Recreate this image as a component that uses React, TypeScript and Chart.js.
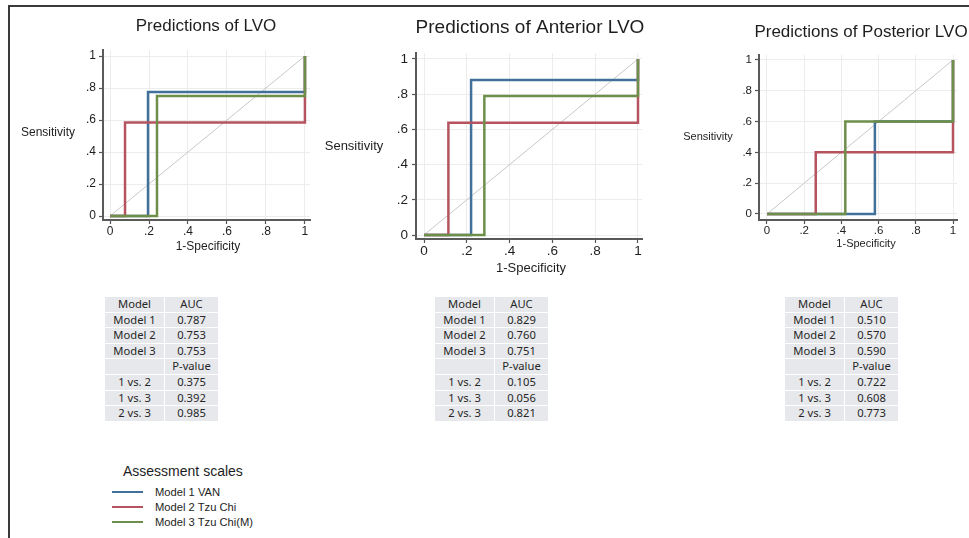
import React, { useEffect, useRef } from 'react';
import { Chart, registerables } from 'chart.js';

Chart.register(...registerables);

// ---------- data ----------
const MODEL_NAMES = ['Model 1 VAN', 'Model 2 Tzu Chi', 'Model 3 Tzu Chi(M)'];
const AXIS_TICKS = [0, 0.2, 0.4, 0.6, 0.8, 1];
const AXIS_TICK_LABELS = ['0', '.2', '.4', '.6', '.8', '1'];
const X_TITLE = '1-Specificity';
const Y_TITLE = 'Sensitivity';
const DIAGONAL = [[0, 0], [1, 1]];

// ROC curves as [1-specificity, sensitivity] points
const LVO_M1 = [[0, 0], [0.195, 0], [0.195, 0.775], [1, 0.775], [1, 1]];
const LVO_M2 = [[0, 0], [0.077, 0], [0.077, 0.585], [1, 0.585], [1, 1]];
const LVO_M3 = [[0, 0], [0.241, 0], [0.241, 0.75], [1, 0.75], [1, 1]];

const ANT_M1 = [[0, 0], [0.22, 0], [0.22, 0.88], [1, 0.88], [1, 1]];
const ANT_M2 = [[0, 0], [0.114, 0], [0.114, 0.638], [1, 0.638], [1, 1]];
const ANT_M3 = [[0, 0], [0.282, 0], [0.282, 0.79], [1, 0.79], [1, 1]];

const POST_M1 = [[0, 0], [0.58, 0], [0.58, 0.6], [1, 0.6], [1, 1]];
const POST_M2 = [[0, 0], [0.262, 0], [0.262, 0.4], [1, 0.4], [1, 1]];
const POST_M3 = [[0, 0], [0.421, 0], [0.421, 0.6], [1, 0.6], [1, 1]];

const TABLE_HEAD = ['Model', 'AUC'];
const TABLE_MODELS = ['Model 1', 'Model 2', 'Model 3'];
const TABLE_P_HEAD = ['', 'P-value'];
const TABLE_PAIRS = ['1 vs. 2', '1 vs. 3', '2 vs. 3'];

const LVO_AUC = ['0.787', '0.753', '0.753'];
const LVO_P = ['0.375', '0.392', '0.985'];
const ANT_AUC = ['0.829', '0.760', '0.751'];
const ANT_P = ['0.105', '0.056', '0.821'];
const POST_AUC = ['0.510', '0.570', '0.590'];
const POST_P = ['0.722', '0.608', '0.773'];

const LEGEND_TITLE = 'Assessment scales';

// ---------- styles ----------
const COLORS = ['#41709b', '#b5535f', '#6e8f4a'];
const DIAG_COLOR = '#c8c8c8';
const FONT = '"Liberation Sans", Arial, Helvetica, sans-serif';
const TABLE_FONT = '"Noto Sans", "Open Sans", sans-serif';
const XH = 40;

const PANELS = [
  {
    title: 'Predictions of LVO',
    curves: [LVO_M1, LVO_M2, LVO_M3],
    auc: LVO_AUC,
    p: LVO_P,
    box: { left: 10, top: 8, width: 320, height: 262 },
    area: { left: 103, right: 310, top: 50, bottom: 220 },
    xr: { min: -0.036, max: 1.026 },
    yr: { min: -0.025, max: 1.0375 },
    tickSize: 12,
    xTickPad: 0,
    yTickPad: 3,
    titleSize: 17,
    titlePos: [206, 26],
    axisTitleSize: 12,
    yTitlePos: [48, 133],
    xTitlePos: [208, 247],
    table: { left: 105, top: 297 },
  },
  {
    title: 'Predictions of Anterior LVO',
    curves: [ANT_M1, ANT_M2, ANT_M3],
    auc: ANT_AUC,
    p: ANT_P,
    box: { left: 315, top: 8, width: 340, height: 282 },
    area: { left: 416, right: 642, top: 53, bottom: 239 },
    xr: { min: -0.0374, max: 1.0187 },
    yr: { min: -0.0227, max: 1.034 },
    tickSize: 13.5,
    xTickPad: 0,
    yTickPad: 4,
    titleSize: 19,
    titlePos: [530, 28],
    axisTitleSize: 13,
    yTitlePos: [354, 146],
    xTitlePos: [531, 268],
    table: { left: 435, top: 297 },
  },
  {
    title: 'Predictions of Posterior LVO',
    curves: [POST_M1, POST_M2, POST_M3],
    auc: POST_AUC,
    p: POST_P,
    box: { left: 665, top: 8, width: 304, height: 262 },
    area: { left: 759, right: 957, top: 55, bottom: 220 },
    xr: { min: -0.043, max: 1.0215 },
    yr: { min: -0.039, max: 1.032 },
    tickSize: 11.5,
    xTickPad: 0,
    yTickPad: 3,
    titleSize: 17,
    titlePos: [861, 32],
    axisTitleSize: 11,
    yTitlePos: [708, 137],
    xTitlePos: [866, 244],
    table: { left: 785, top: 297 },
  },
];

function RocPanel({ panel }: { panel: any }) {
  const ref = useRef<HTMLCanvasElement>(null);

  useEffect(() => {
    const p = panel;
    const yW = p.area.left - p.box.left;
    const padding = {
      left: 0,
      top: p.area.top - p.box.top,
      right: p.box.left + p.box.width - p.area.right,
      bottom: p.box.top + p.box.height - p.area.bottom - XH,
    };
    const texts = [
      { text: p.title, pos: p.titlePos, size: p.titleSize },
      { text: Y_TITLE, pos: p.yTitlePos, size: p.axisTitleSize },
      { text: X_TITLE, pos: p.xTitlePos, size: p.axisTitleSize },
    ];
    const textPlugin = {
      id: 'panelText',
      afterDraw(chart: any) {
        const ctx = chart.ctx;
        texts.forEach((t) => {
          ctx.save();
          ctx.font = `${t.size}px ${FONT}`;
          ctx.fillStyle = '#1e1e1e';
          ctx.textAlign = 'center';
          ctx.textBaseline = 'middle';
          ctx.fillText(t.text, t.pos[0] - p.box.left, t.pos[1] - p.box.top);
          ctx.restore();
        });
      },
    };

    const datasets: any[] = [
      {
        label: 'Reference',
        data: DIAGONAL.map(([x, y]) => ({ x, y })),
        borderColor: DIAG_COLOR,
        borderWidth: 1,
        order: 10,
      },
      ...p.curves.map((c: number[][], i: number) => ({
        label: MODEL_NAMES[i],
        data: c.map(([x, y]) => ({ x, y })),
        borderColor: COLORS[i],
        borderWidth: 2.5,
        order: 3 - i,
      })),
    ];

    const axis = (range: any, tickPad: number, fit: (s: any) => void) => ({
      type: 'linear',
      min: range.min,
      max: range.max,
      afterBuildTicks: (s: any) => {
        s.ticks = AXIS_TICKS.map((value) => ({ value }));
      },
      afterFit: fit,
      ticks: {
        autoSkip: false,
        maxRotation: 0,
        padding: tickPad,
        color: '#1e1e1e',
        font: { family: FONT, size: p.tickSize },
        callback: (_v: any, i: number) => AXIS_TICK_LABELS[i],
      },
      grid: {
        color: '#ececec',
        lineWidth: 1,
        drawTicks: true,
        tickLength: 4,
        tickColor: '#555',
        tickWidth: 1.2,
      },
      border: { display: true, color: '#5a5a5a', width: 2 },
    });

    const chart = new Chart(ref.current as HTMLCanvasElement, {
      type: 'scatter',
      data: { datasets },
      options: {
        responsive: false,
        animation: false,
        layout: { padding },
        elements: {
          point: { radius: 0, hoverRadius: 0 },
          line: { tension: 0, borderJoinStyle: 'miter', borderCapStyle: 'butt', fill: false },
        },
        datasets: { scatter: { showLine: true } },
        plugins: {
          legend: { display: false },
          tooltip: { enabled: false },
          title: { display: false },
        },
        scales: {
          x: axis(p.xr, p.xTickPad, (s: any) => {
            s.height = XH;
          }),
          y: axis(p.yr, p.yTickPad, (s: any) => {
            s.width = yW;
          }),
        },
      } as any,
      plugins: [textPlugin],
    });
    return () => chart.destroy();
  }, [panel]);

  return (
    <canvas
      ref={ref}
      width={panel.box.width}
      height={panel.box.height}
      style={{
        position: 'absolute',
        left: panel.box.left,
        top: panel.box.top,
        width: panel.box.width,
        height: panel.box.height,
      }}
    />
  );
}

function StatsTable({ panel }: { panel: any }) {
  const rows: string[][] = [
    TABLE_HEAD,
    ...TABLE_MODELS.map((m, i) => [m, panel.auc[i]]),
    TABLE_P_HEAD,
    ...TABLE_PAIRS.map((m, i) => [m, panel.p[i]]),
  ];
  return (
    <div
      style={{
        position: 'absolute',
        left: panel.table.left,
        top: panel.table.top,
        display: 'grid',
        gridTemplateColumns: '59px 53px',
        gridAutoRows: '14.6px',
        gap: '1px',
        background: '#fff',
      }}
    >
      {rows.map((r, ri) =>
        r.map((c, ci) => (
          <div
            key={`${ri}-${ci}`}
            style={{
              background: '#e6e8eb',
              color: '#262626',
              fontFamily: TABLE_FONT,
              fontSize: 11.2,
              lineHeight: '14.6px',
              textAlign: 'center',
              whiteSpace: 'nowrap',
            }}
          >
            {c}
          </div>
        ))
      )}
    </div>
  );
}

function Legend() {
  const ys = [492, 507, 522];
  return (
    <>
      <div
        style={{
          position: 'absolute',
          left: 123,
          top: 462,
          fontFamily: FONT,
          fontSize: 14,
          lineHeight: '18px',
          color: '#1e1e1e',
          whiteSpace: 'nowrap',
        }}
      >
        {LEGEND_TITLE}
      </div>
      {MODEL_NAMES.map((name, i) => (
        <React.Fragment key={name}>
          <div
            style={{
              position: 'absolute',
              left: 112,
              top: ys[i] - 1,
              width: 31,
              height: 2,
              background: COLORS[i],
            }}
          />
          <div
            style={{
              position: 'absolute',
              left: 155,
              top: ys[i] - 7,
              fontFamily: FONT,
              fontSize: 11.2,
              lineHeight: '14px',
              color: '#1e1e1e',
              whiteSpace: 'nowrap',
            }}
          >
            {name}
          </div>
        </React.Fragment>
      ))}
    </>
  );
}

export default function App() {
  return (
    <>
      <style>{'html,body{margin:0;padding:0;overflow:hidden;background:#fff}'}</style>
      <div style={{ position: 'absolute', left: 0, top: 0, width: 969, height: 538, overflow: 'hidden', background: '#fff' }}>
        <div
          style={{
            position: 'absolute',
            left: 8,
            top: 5,
            width: 961,
            height: 533,
            boxSizing: 'border-box',
            borderLeft: '2px solid #3a3a3a',
            borderTop: '2px solid #3a3a3a',
          }}
        />
        {PANELS.map((p) => (
          <RocPanel key={p.title} panel={p} />
        ))}
        {PANELS.map((p) => (
          <StatsTable key={p.title + '-t'} panel={p} />
        ))}
        <Legend />
      </div>
    </>
  );
}
